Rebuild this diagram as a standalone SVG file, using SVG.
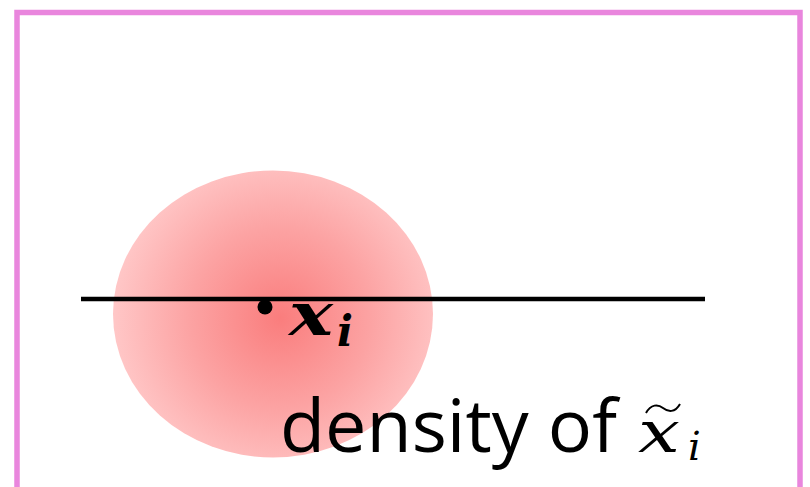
<svg xmlns="http://www.w3.org/2000/svg" width="810" height="487" viewBox="0 0 810 487">
<defs>
<radialGradient id="blob" gradientUnits="userSpaceOnUse" cx="280" cy="318" r="165" fx="280" fy="318">
<stop offset="0" stop-color="#fa7d7d"/>
<stop offset="0.55" stop-color="#fca3a3"/>
<stop offset="1" stop-color="#ffc6c6"/>
</radialGradient>
<style>
.math{font-family:"DejaVu Serif","Liberation Serif",serif;font-style:italic;fill:#000}
.label{font-family:"Open Sans","Noto Sans",sans-serif;fill:#000}
</style>
</defs>
<rect width="810" height="487" fill="#ffffff"/>
<path d="M17 490 V12.5 H800 V490" fill="none" stroke="#e986dd" stroke-width="5.5"/>
<g id="density">
<ellipse cx="273" cy="314" rx="160" ry="143.5" fill="url(#blob)"/>
</g>
<g id="connectors">
<line x1="81" y1="299" x2="705" y2="299" stroke="#000" stroke-width="4.5"/>
</g>
<g id="point">
<circle cx="265" cy="307" r="7.5" fill="#000"/>
<text class="math" x="289" y="335" font-size="60" font-weight="bold" textLength="44" lengthAdjust="spacingAndGlyphs">x</text>
<text class="math" x="337" y="346" font-size="42" font-weight="bold">i</text>
</g>
<g id="caption">
<text class="label" x="280" y="452" font-size="74" textLength="337" lengthAdjust="spacingAndGlyphs">density of</text>
<text class="math" x="638" y="452" font-size="58" textLength="42" lengthAdjust="spacingAndGlyphs">x</text>
<path d="M646 413 C651 404 658 404 663 408 C668 412 675 413 680 404" fill="none" stroke="#000" stroke-width="2"/>
<text class="math" x="688" y="460" font-size="40">i</text>
</g>
</svg>
